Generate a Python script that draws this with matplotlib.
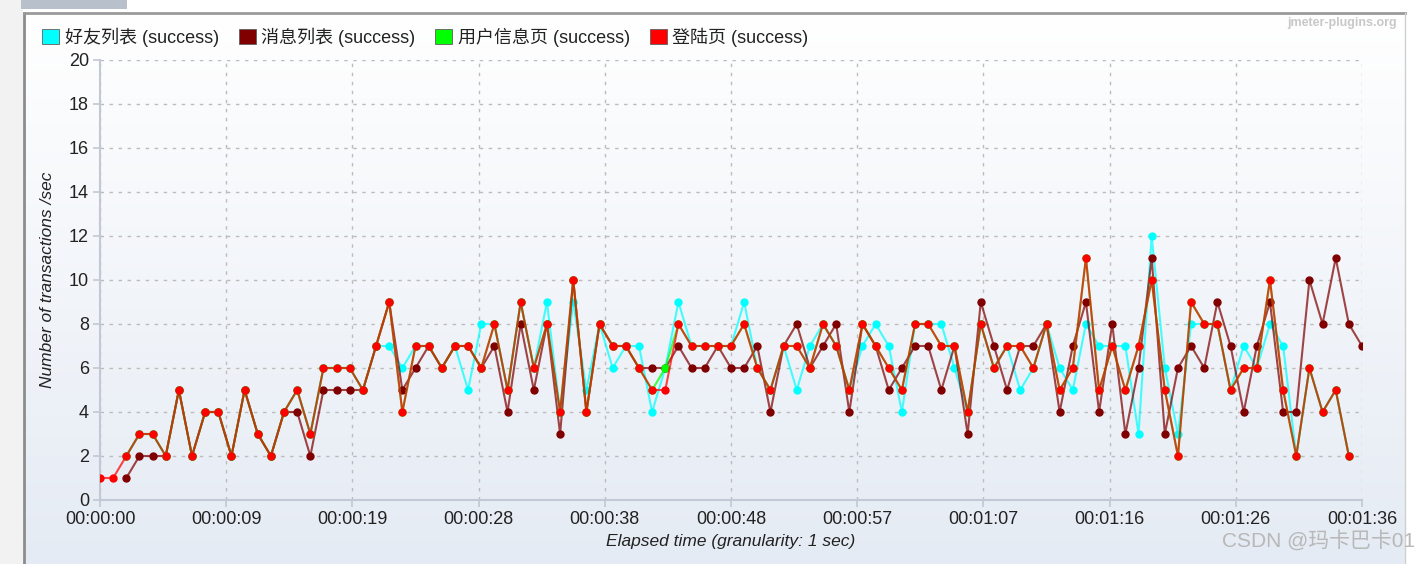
import numpy as np
import matplotlib
matplotlib.use("Agg")
import matplotlib.pyplot as plt
from matplotlib.patches import Patch, Rectangle
from matplotlib.lines import Line2D

plt.rcParams['font.family'] = ['Liberation Sans', 'Noto Sans CJK SC']

W, H = 1420, 564

# transactions per second, one value per elapsed second (None = no sample)
friends_list = [None, None, 2, 3, 3, 2, 5, 2, 4, 4,
                2, 5, 3, 2, 4, 5, 3, 6, 6, 6,
                5, 7, 7, 6, 7, 7, 6, 7, 5, 8,
                8, 5, 9, 6, 9, 4, 9, 5, 8, 6,
                7, 7, 4, 6, 9, 7, 7, 7, 7, 9,
                6, 5, 7, 5, 7, 8, 7, 5, 7, 8,
                7, 4, 8, 8, 8, 6, 4, 8, 6, 7,
                5, 6, 8, 6, 5, 8, 7, 7, 7, 3,
                12, 6, 3, 8, 8, 8, 5, 7, 6, 8,
                7, 2, 6, 4, 5, 2, None]
message_list = [None, None, 1, 2, 2, 2, 5, 2, 4, 4,
                2, 5, 3, 2, 4, 4, 2, 5, 5, 5,
                5, 7, 9, 5, 6, 7, 6, 7, 7, 6,
                7, 4, 8, 5, 8, 3, 10, 4, 8, 7,
                7, 6, 6, 6, 7, 6, 6, 7, 6, 6,
                7, 4, 7, 8, 6, 7, 8, 4, 8, 7,
                5, 6, 7, 7, 5, 7, 3, 9, 7, 5,
                7, 7, 8, 4, 7, 9, 4, 8, 3, 6,
                11, 3, 6, 7, 6, 9, 7, 4, 7, 9,
                4, 4, 10, 8, 11, 8, 7]
user_info = [None, None, 2, 3, 3, 2, 5, 2, 4, 4,
             2, 5, 3, 2, 4, 5, 3, 6, 6, 6,
             5, 7, 9, 4, 7, 7, 6, 7, 7, 6,
             8, 5, 9, 6, 8, 4, 10, 4, 8, 7,
             7, 6, 5, 6, 8, 7, 7, 7, 7, 8,
             6, 5, 7, 7, 6, 8, 7, 5, 8, 7,
             6, 5, 8, 8, 7, 7, 4, 8, 6, 7,
             7, 6, 8, 5, 6, 11, 5, 7, 5, 7,
             10, 5, 2, 9, 8, 8, 5, 6, 6, 10,
             5, 2, 6, 4, 5, 2, None]
login_page = [1, 1, 2, 3, 3, 2, 5, 2, 4, 4,
              2, 5, 3, 2, 4, 5, 3, 6, 6, 6,
              5, 7, 9, 4, 7, 7, 6, 7, 7, 6,
              8, 5, 9, 6, 8, 4, 10, 4, 8, 7,
              7, 6, 5, 5, 8, 7, 7, 7, 7, 8,
              6, 5, 7, 7, 6, 8, 7, 5, 8, 7,
              6, 5, 8, 8, 7, 7, 4, 8, 6, 7,
              7, 6, 8, 5, 6, 11, 5, 7, 5, 7,
              10, 5, 2, 9, 8, 8, 5, 6, 6, 10,
              5, 2, 6, 4, 5, 2, None]

series_names = ['好友列表 (success)', '消息列表 (success)',
                '用户信息页 (success)', '登陆页 (success)']
series_colors = ['#00ffff', '#800000', '#00ff00', '#ff0000']
tick_seconds = [0, 9.6, 19.2, 28.8, 38.4, 48, 57.6, 67.2, 76.8, 86.4, 96]
tick_labels = ['00:00:00', '00:00:09', '00:00:19', '00:00:28', '00:00:38',
               '00:00:48', '00:00:57', '00:01:07', '00:01:16', '00:01:26',
               '00:01:36']

fig = plt.figure(figsize=(W / 100, H / 100), dpi=100, facecolor='white')

# window chrome: grey strip on the left, tab on top, gradient panel
fig.add_artist(Rectangle((0, 0), 23 / W, 1, transform=fig.transFigure,
                         facecolor='#f2f2f2', edgecolor='none', zorder=-3))
fig.add_artist(Rectangle((21 / W, 1 - 9 / H), 106 / W, 9 / H,
                         transform=fig.transFigure, facecolor='#b8c0cc',
                         edgecolor='none', zorder=-3))
bg = fig.add_axes([24 / W, 0, (1405 - 24) / W, (H - 14) / H], zorder=-2)
grad = np.linspace(0, 1, 256).reshape(-1, 1)
top_c = np.array([1.0, 1.0, 1.0])
bot_c = np.array([0.898, 0.922, 0.957])
bg.imshow(top_c + (bot_c - top_c) * grad[..., None], aspect='auto',
          extent=[0, 1, 0, 1])
bg.axis('off')
fig.add_artist(Line2D([24 / W, 24 / W], [0, 1 - 13 / H], transform=fig.transFigure,
                      color='#8c8c8c', lw=2))
fig.add_artist(Line2D([24 / W, 1405 / W], [1 - 13 / H, 1 - 13 / H],
                      transform=fig.transFigure, color='#9a9a9a', lw=2))
fig.add_artist(Line2D([1405 / W, 1405 / W], [0, 1 - 13 / H],
                      transform=fig.transFigure, color='#d0d0d0', lw=1))

ax = fig.add_axes([100 / W, (H - 500) / H, 1262 / W, 440 / H])
ax.set_facecolor('none')

seconds = np.arange(len(login_page))
all_series = [friends_list, message_list, user_info, login_page]
for vals, color in zip(all_series, series_colors):
    y = np.array([np.nan if v is None else v for v in vals], dtype=float)
    rgba = matplotlib.colors.to_rgba(color, 0.72)
    ax.plot(seconds, y, color=rgba, lw=1.5, marker='o', markersize=5,
            markerfacecolor=color, markeredgecolor=color, zorder=3)

ax.set_xlim(0, 96)
ax.set_ylim(0, 20)
ax.set_yticks(range(0, 21, 2))
ax.set_xticks(tick_seconds)
ax.set_xticklabels(tick_labels)
ax.grid(True, color='#bcbcbc', linestyle=(0, (2.5, 4)), lw=1)
for side in ['top', 'right']:
    ax.spines[side].set_visible(False)
for side in ['left', 'bottom']:
    ax.spines[side].set_color('#c2c8d4')
    ax.spines[side].set_linewidth(1.5)
ax.tick_params(direction='out', length=5, color='#c2c8d4', width=1.2,
               labelsize=13, labelcolor='#222222', pad=3)
ax.set_xlabel('Elapsed time (granularity: 1 sec)', fontsize=12.5,
              style='italic', color='#222222', labelpad=4)
ax.set_ylabel('Number of transactions /sec', fontsize=12.5,
              style='italic', color='#222222', labelpad=10)

handles = [Patch(facecolor=c, edgecolor='#606060', lw=0.6) for c in series_colors]
fig.legend(handles, series_names, loc='upper left',
           bbox_to_anchor=(35 / W, 1 - 20 / H), ncol=4, frameon=False,
           handlelength=0.95, handleheight=0.95, handletextpad=0.3,
           columnspacing=1.1, fontsize=13, borderaxespad=0,
           labelcolor='#222222')

fig.text(1397 / W, 1 - 23 / H, 'jmeter-plugins.org', ha='right', va='center',
         fontsize=9, color='#c8c8c8', weight='bold')
fig.text(1415 / W, 1 - 540 / H, 'CSDN @玛卡巴卡01', ha='right', va='center',
         fontsize=15, color='#b8b8b8')

fig.savefig('out.png', dpi=100, facecolor='white')
